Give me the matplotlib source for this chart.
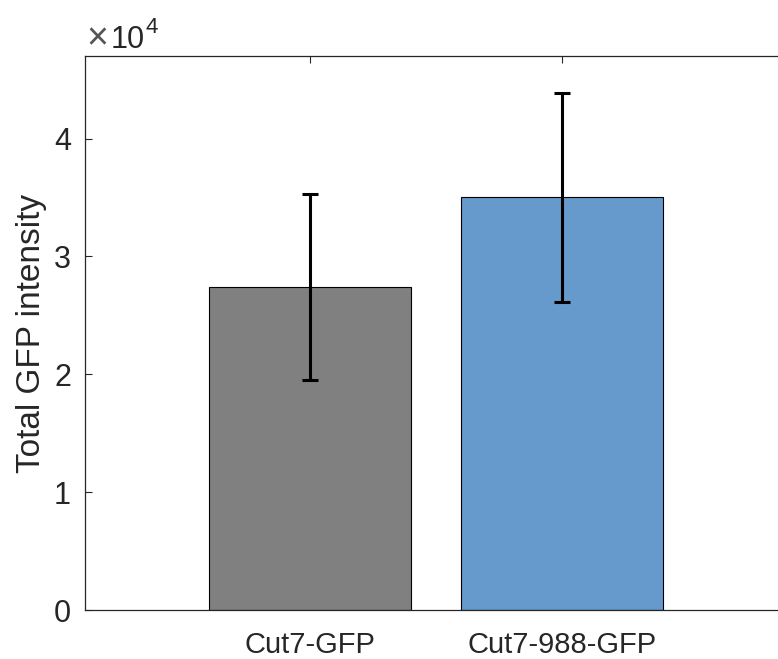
import numpy as np
import matplotlib.pyplot as plt

plt.rcParams['font.family'] = ['Liberation Sans', 'DejaVu Sans']

strains = ['Cut7-GFP', 'Cut7-988-GFP']
intensity = [2.74e4, 3.50e4]
err = [0.79e4, 0.89e4]
colors = ['#808080', '#6699CC']

fig = plt.figure(figsize=(7.78, 6.59), dpi=100)
ax = fig.add_axes([85 / 778, 1 - 610 / 659, 702 / 778, 554 / 659])

x = np.arange(1, len(strains) + 1)
ax.bar(x, intensity, width=0.8, color=colors, edgecolor='black', linewidth=0.8, zorder=2)
ax.errorbar(x, intensity, yerr=err, fmt='none', ecolor='black', elinewidth=2.2,
            capsize=6, capthick=2.2, zorder=3)

ax.set_xlim(0.107, 2.893)
ax.set_ylim(0, 4.7e4)
ax.set_xticks(x)
ax.set_xticklabels(strains)
ax.set_yticks([0, 1e4, 2e4, 3e4, 4e4])
ax.set_yticklabels(['0', '1', '2', '3', '4'])
ax.set_ylabel('Total GFP intensity', fontsize=24, color='#262626', labelpad=5)

ax.tick_params(direction='in', length=5, width=0.8, colors='#262626',
               labelsize=22, top=True, right=True, pad=10)
ax.tick_params(axis='x', pad=15, labelsize=21)
for s in ax.spines.values():
    s.set_color('#262626')
    s.set_linewidth(0.9)

# MATLAB style exponent label
fig.text(86 / 778, 1 - 39 / 659, '\u00d7', fontsize=27, color='#555555', va='center')
fig.text(111 / 778, 1 - 48 / 659, '10', fontsize=22, color='#262626', va='baseline')
fig.text(146 / 778, 1 - 33 / 659, '4', fontsize=16, color='#262626', va='baseline')

fig.savefig('out.png', dpi=100)
